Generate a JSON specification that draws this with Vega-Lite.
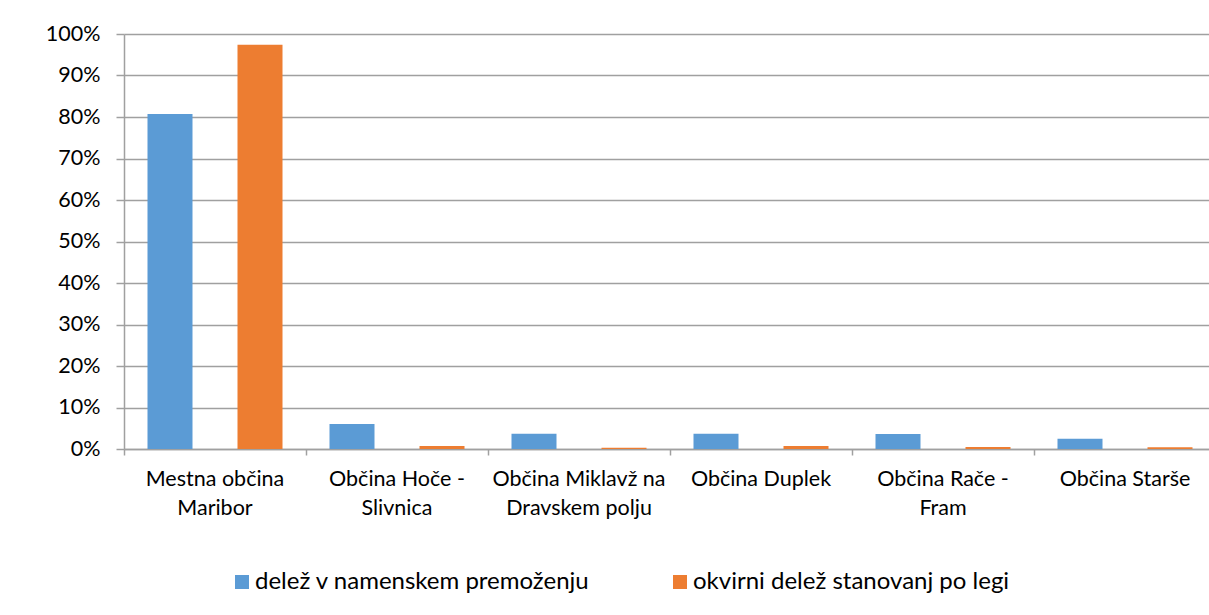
{
  "$schema": "https://vega.github.io/schema/vega-lite/v6.json",
  "width": 1085,
  "height": 415,
  "autosize": {"type": "none"},
  "padding": {"left": 124, "top": 34, "right": 0, "bottom": 166},
  "background": "white",
  "config": {"view": {"stroke": null}, "font": "Lato"},
  "data": {
    "values": [
      {"obcina": "Mestna občina Maribor", "serija": "delež v namenskem premoženju", "delez": 0.807},
      {"obcina": "Mestna občina Maribor", "serija": "okvirni delež stanovanj po legi", "delez": 0.974},
      {"obcina": "Občina Hoče - Slivnica", "serija": "delež v namenskem premoženju", "delez": 0.060},
      {"obcina": "Občina Hoče - Slivnica", "serija": "okvirni delež stanovanj po legi", "delez": 0.007},
      {"obcina": "Občina Miklavž na Dravskem polju", "serija": "delež v namenskem premoženju", "delez": 0.037},
      {"obcina": "Občina Miklavž na Dravskem polju", "serija": "okvirni delež stanovanj po legi", "delez": 0.003},
      {"obcina": "Občina Duplek", "serija": "delež v namenskem premoženju", "delez": 0.037},
      {"obcina": "Občina Duplek", "serija": "okvirni delež stanovanj po legi", "delez": 0.007},
      {"obcina": "Občina Rače - Fram", "serija": "delež v namenskem premoženju", "delez": 0.036},
      {"obcina": "Občina Rače - Fram", "serija": "okvirni delež stanovanj po legi", "delez": 0.005},
      {"obcina": "Občina Starše", "serija": "delež v namenskem premoženju", "delez": 0.025},
      {"obcina": "Občina Starše", "serija": "okvirni delež stanovanj po legi", "delez": 0.004}
    ]
  },
  "mark": {"type": "bar"},
  "encoding": {
    "x": {
      "field": "obcina",
      "type": "nominal",
      "sort": null,
      "scale": {"range": [0, 1092], "paddingInner": 0, "paddingOuter": 0},
      "axis": {
        "title": null,
        "bandPosition": 0,
        "labelAngle": 0,
        "labelAlign": "center",
        "labelBaseline": "top",
        "labelPadding": 13,
        "labelLineHeight": 29,
        "labelOverlap": false,
        "labelFlush": false,
        "labelBound": false,
        "labelLimit": 400,
        "labelFont": "Lato",
        "labelFontSize": 21.5,
        "labelColor": "#000000",
        "tickSize": 6,
        "tickWidth": 1.5,
        "tickColor": "#a0a0a0",
        "domainColor": "#a0a0a0",
        "domainWidth": 1.5,
        "grid": false,
        "labelExpr": "datum.value == 'Mestna občina Maribor' ? ['Mestna občina', 'Maribor'] : datum.value == 'Občina Hoče - Slivnica' ? ['Občina Hoče -', 'Slivnica'] : datum.value == 'Občina Miklavž na Dravskem polju' ? ['Občina Miklavž na', 'Dravskem polju'] : datum.value == 'Občina Rače - Fram' ? ['Občina Rače -', 'Fram'] : datum.label"
      }
    },
    "xOffset": {
      "field": "serija",
      "type": "nominal",
      "sort": null,
      "scale": {"paddingInner": 0.5, "paddingOuter": 0.261}
    },
    "y": {
      "field": "delez",
      "type": "quantitative",
      "scale": {"domain": [0, 1], "nice": false},
      "axis": {
        "title": null,
        "format": ".0%",
        "values": [0, 0.1, 0.2, 0.3, 0.4, 0.5, 0.6, 0.7, 0.8, 0.9, 1],
        "grid": true,
        "gridColor": "#a0a0a0",
        "gridWidth": 1.5,
        "tickSize": 8,
        "tickWidth": 1.5,
        "tickColor": "#a0a0a0",
        "domainColor": "#a0a0a0",
        "domainWidth": 1.5,
        "labelFont": "Lato",
        "labelFontSize": 21.5,
        "labelColor": "#000000",
        "labelPadding": 16
      }
    },
    "color": {
      "field": "serija",
      "type": "nominal",
      "sort": null,
      "scale": {"range": ["#5B9BD5", "#ED7D31"]},
      "legend": {
        "title": null,
        "orient": "none",
        "legendX": 106,
        "legendY": 536,
        "direction": "horizontal",
        "symbolType": "square",
        "symbolSize": 196,
        "symbolStrokeWidth": 0,
        "labelFont": "Lato",
        "labelFontSize": 24,
        "labelColor": "#000000",
        "labelOffset": 1,
        "labelLimit": 500,
        "columnPadding": 78
      }
    }
  }
}
